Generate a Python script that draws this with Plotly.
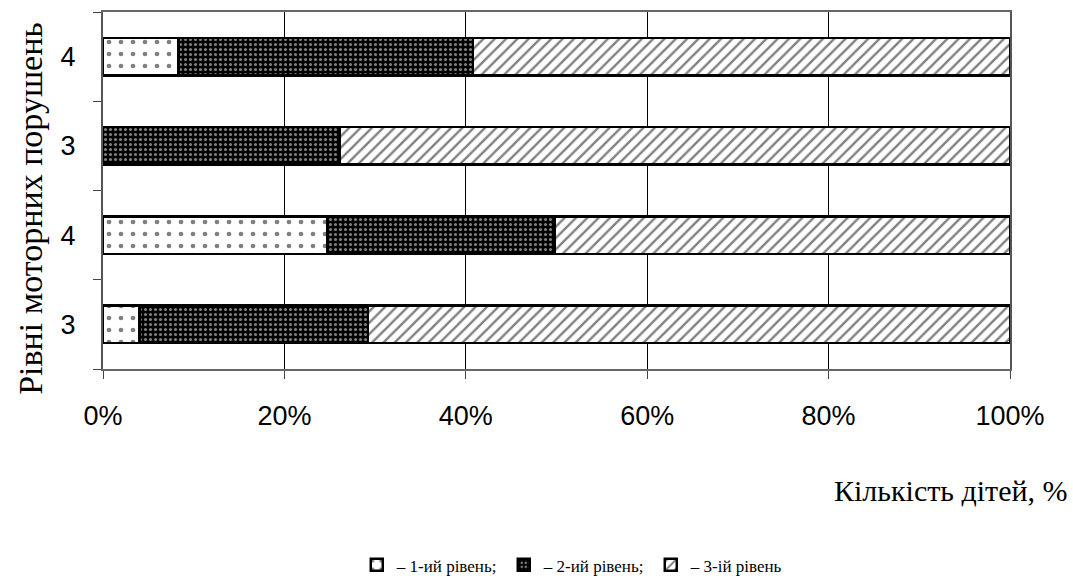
import plotly.graph_objects as go

# Rows bottom-to-top
row_pos = [0, 1, 2, 3]
row_labels = ["3", "4", "3", "4"]
level1 = [4.0, 24.7, 0.0, 8.3]
level2 = [25.2, 25.1, 26.1, 32.5]
level3 = [70.8, 50.2, 73.9, 59.2]
series_names = ["– 1-ий рівень;", "– 2-ий рівень;", "– 3-ій рівень"]
x_ticks = [0, 20, 40, 60, 80, 100]
x_ticklabels = ["0%", "20%", "40%", "60%", "80%", "100%"]

patterns = [
    dict(shape=".", fgcolor="black", bgcolor="white", size=12, solidity=0.12),
    dict(shape=".", fgcolor="white", bgcolor="black", size=5, solidity=0.3),
    dict(shape="/", fgcolor="black", bgcolor="white", size=8, solidity=0.3),
]

fig = go.Figure()
for vals, name, pat in zip([level1, level2, level3], series_names, patterns):
    fig.add_trace(go.Bar(
        x=vals, y=row_pos, orientation="h", name=name,
        width=0.42,
        marker=dict(color=pat["bgcolor"], pattern=pat,
                    line=dict(color="black", width=2.5)),
    ))

serif = "Liberation Serif, Times New Roman, serif"
sans = "Liberation Sans, Arial, sans-serif"

fig.update_layout(
    barmode="stack",
    width=1073, height=581,
    margin=dict(l=103, r=63, t=12, b=212),
    paper_bgcolor="white", plot_bgcolor="white",
    font=dict(family=sans, color="black"),
    showlegend=True,
    legend=dict(orientation="h", xref="container", yref="container",
                x=0.538, xanchor="center", y=0.027, yanchor="middle",
                traceorder="normal",
                font=dict(family=serif, size=17),
                itemwidth=30, tracegroupgap=0,
                entrywidth=102, entrywidthmode="pixels"),
    xaxis=dict(range=[0, 100], tickvals=x_ticks, ticktext=x_ticklabels,
               showgrid=True, gridcolor="black", gridwidth=1,
               showline=True, linecolor="#666", linewidth=1.5, mirror=True,
               ticks="outside", ticklen=8, tickcolor="#444",
               ticklabelstandoff=14, automargin=False,
               tickfont=dict(size=27, family=sans),
               zeroline=False, fixedrange=True),
    yaxis=dict(range=[-0.5, 3.5], tickvals=row_pos, ticktext=row_labels,
               showgrid=False, zeroline=False,
               showline=True, linecolor="#555", linewidth=2, mirror=True,
               ticks="", ticklabelstandoff=20, automargin=False,
               minor=dict(tick0=0.5, dtick=1, ticks="outside", ticklen=8,
                          tickcolor="#444", showgrid=False),
               tickfont=dict(size=27, family=sans),
               fixedrange=True),
    annotations=[
        dict(text="Кількість дітей, %", xref="paper", yref="paper",
             x=1.066, y=-0.339, xanchor="right", yanchor="middle",
             showarrow=False, font=dict(family=serif, size=30)),
        dict(text="Рівні моторних порушень", xref="paper", yref="paper",
             x=-0.08, y=0.45, xanchor="center", yanchor="middle",
             textangle=-90, showarrow=False,
             font=dict(family=serif, size=34)),
    ],
)

fig.write_html("out.html", config={"displayModeBar": False},
               post_script="document.body.style.margin='0';")
